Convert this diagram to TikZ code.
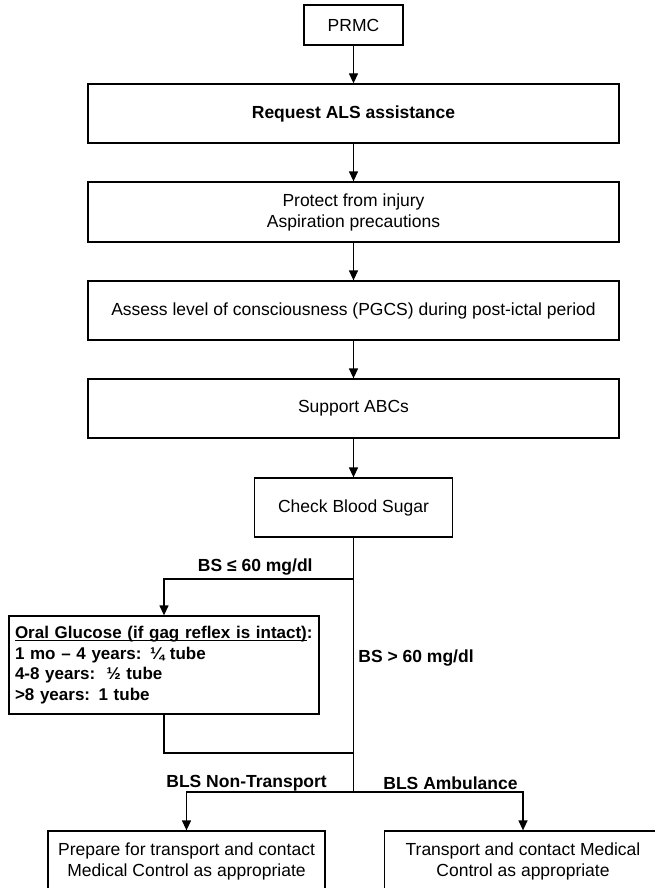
\documentclass[tikz,border=0pt]{standalone}
\usepackage{fontspec}
\setmainfont{Liberation Sans}
\usetikzlibrary{arrows.meta}
\newcommand\ulline[1]{\setbox0\hbox{#1}\rlap{\rule[-1.3pt]{\wd0}{0.5pt}}\box0}
\tikzset{
  lw/.style={line width=0.65pt},
  box/.style={draw, lw, font=\fontsize{8.75}{10.5}\selectfont, align=center, inner sep=2pt},
  wide/.style={box, minimum width=265.5pt, minimum height=29.5pt},
  lbl/.style={font=\fontsize{8.75}{10.5}\selectfont\bfseries, inner sep=0pt},
  arr/.style={lw, -{Triangle[length=5pt,width=4.5pt]}},
  ln/.style={lw}
}
\begin{document}
\begin{tikzpicture}[x=0.5pt,y=-0.5pt]
\useasboundingbox (0,0) rectangle (654,888);
\node[box, minimum width=49.5pt, minimum height=20pt] (prmc) at (353.5,25) {PRMC};
\node[wide, font=\fontsize{8.75}{10.5}\selectfont\bfseries] (req) at (353.5,113.5) {Request ALS assistance};
\node[wide, minimum height=30pt] (prot) at (353.5,212) {Protect from injury\\Aspiration precautions};
\node[wide] (assess) at (353.5,310.5) {Assess level of consciousness (PGCS) during post-ictal period};
\node[wide] (abc) at (353.5,408.5) {Support ABCs};
\node[box, minimum width=99pt, minimum height=29.5pt] (cbs) at (353.5,507.5) {Check Blood Sugar};
\node[box, font=\fontsize{8.5}{10.4}\selectfont\bfseries, align=left, text width=149pt, inner sep=3pt, minimum height=49pt] (oral) at (164,665)
  {\ulline{Oral Glucose (if gag reflex is intact)}:\\1 mo – 4 years: ¼ tube\\4-8 years:\ \ ½ tube\\>8 years: 1 tube};
\node[box, minimum width=138.5pt, minimum height=30pt] (bl) at (186.5,861) {Prepare for transport and contact\\Medical Control as appropriate};
\node[box, minimum width=138.5pt, minimum height=30pt] (br) at (523,861) {Transport and contact Medical\\Control as appropriate};

\coordinate (b1) at (353.5,579);
\coordinate (m1) at (353.5,753);
\coordinate (sp) at (353.5,792);

\draw[arr] (prmc) -- (req);
\draw[arr] (req) -- (prot);
\draw[arr] (prot) -- (assess);
\draw[arr] (assess) -- (abc);
\draw[arr] (abc) -- (cbs);
\draw[ln] (cbs.south) -- (sp);
\draw[arr] (b1) -| (oral.north);
\draw[ln] (oral.south) |- (m1);
\draw[arr] (sp) -| (bl.north);
\draw[arr] (sp) -| (br.north);

\node[lbl, anchor=east] (l1) at (313,567) {BS ≤ 60 mg/dl};
\node[lbl, anchor=west] (l2) at (358,658) {BS > 60 mg/dl};
\node[lbl, anchor=west] (l3) at (166,783) {BLS Non-Transport};
\node[lbl, anchor=west] (l4) at (383,783) {BLS Ambulance};
\end{tikzpicture}
\end{document}
